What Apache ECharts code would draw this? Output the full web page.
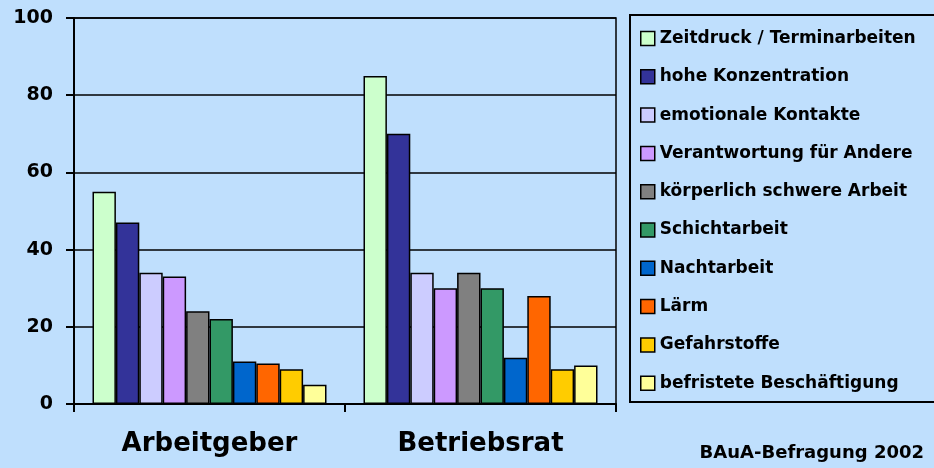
<!DOCTYPE html>
<html>
<head>
<meta charset="utf-8">
<script src="https://cdn.jsdelivr.net/npm/echarts@6/dist/echarts.min.js"></script>
<style>
html,body{margin:0;padding:0;background:#BFDFFD;}
#c{width:934px;height:468px;}
</style>
</head>
<body>
<div id="c"></div>
<script>
const categories = ['Arbeitgeber', 'Betriebsrat'];
const seriesNames = [
  'Zeitdruck / Terminarbeiten',
  'hohe Konzentration',
  'emotionale Kontakte',
  'Verantwortung für Andere',
  'körperlich schwere Arbeit',
  'Schichtarbeit',
  'Nachtarbeit',
  'Lärm',
  'Gefahrstoffe',
  'befristete Beschäftigung'
];
const zeitdruck = [55, 85];
const konzentration = [47, 70];
const emotionaleKontakte = [34, 34];
const verantwortung = [33, 30];
const koerperlich = [24, 34];
const schichtarbeit = [22, 30];
const nachtarbeit = [11, 12];
const laerm = [10.5, 28];
const gefahrstoffe = [9, 9];
const befristet = [5, 10];
const seriesValues = [zeitdruck, konzentration, emotionaleKontakte, verantwortung, koerperlich, schichtarbeit, nachtarbeit, laerm, gefahrstoffe, befristet];
const colors = ['#CCFFCC', '#333399', '#CCCCFF', '#CC99FF', '#808080', '#339966', '#0066CC', '#FF6600', '#FFCC00', '#FFFF99'];
const yTicks = [0, 20, 40, 60, 80, 100];
const footnote = 'BAuA-Befragung 2002';

const chart = echarts.init(document.getElementById('c'), null, {renderer: 'canvas'});
const FONT = '"DejaVu Sans", sans-serif';

const series = seriesNames.map((name, i) => ({
  name: name,
  type: 'bar',
  data: seriesValues[i],
  barWidth: 23.4,
  barGap: '0%',
  itemStyle: {color: colors[i], borderColor: '#000', borderWidth: 1.5},
  emphasis: {disabled: true}
}));

chart.setOption({
  backgroundColor: '#BFDFFD',
  animation: false,
  color: colors,
  title: {
    text: footnote,
    right: 5,
    bottom: 1,
    textStyle: {fontFamily: FONT, fontWeight: 'bold', fontSize: 18, color: '#000'}
  },
  grid: {
    left: 74, right: 318, top: 18, bottom: 64,
    show: true, borderColor: '#000', borderWidth: 1.5, backgroundColor: 'transparent',
    containLabel: false
  },
  legend: {
    orient: 'vertical',
    left: 640,
    top: 30,
    padding: 0,
    itemWidth: 14,
    itemHeight: 14,
    itemGap: 21.3,
    icon: 'rect',
    selectedMode: false,
    itemStyle: {borderColor: '#000', borderWidth: 1.5},
    textStyle: {fontFamily: FONT, fontWeight: 'bold', fontSize: 17, color: '#000', lineHeight: 14},
    data: seriesNames
  },
  graphic: [{
    type: 'rect',
    shape: {x: 630, y: 15, width: 320, height: 387},
    style: {fill: 'transparent', stroke: '#000', lineWidth: 2},
    silent: true
  }],
  xAxis: {
    type: 'category',
    data: categories,
    axisLine: {show: true, lineStyle: {color: '#000', width: 2}},
    axisTick: {show: true, length: 8, lineStyle: {color: '#000', width: 2}},
    axisLabel: {fontFamily: FONT, fontWeight: 'bold', fontSize: 26, color: '#000', margin: 27}
  },
  yAxis: {
    type: 'value',
    min: yTicks[0],
    max: yTicks[yTicks.length - 1],
    interval: 20,
    axisLine: {show: true, lineStyle: {color: '#000', width: 2}},
    axisTick: {show: true, length: 8, lineStyle: {color: '#000', width: 2}},
    splitLine: {show: true, lineStyle: {color: '#000', width: 1.5}},
    axisLabel: {fontFamily: FONT, fontWeight: 'bold', fontSize: 19, color: '#000', margin: 21}
  },
  series: series
});
</script>
</body>
</html>
